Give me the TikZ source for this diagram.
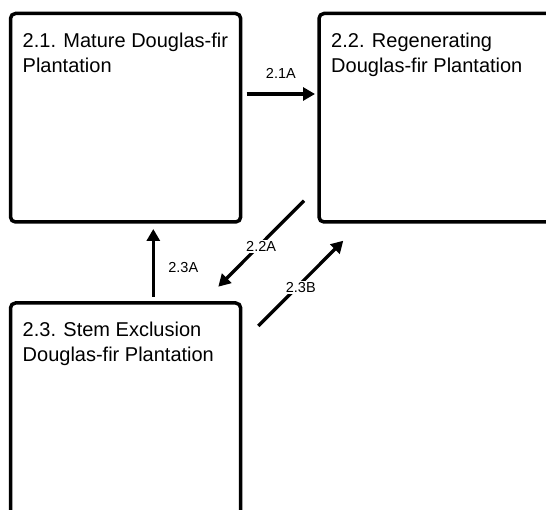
\documentclass[tikz,border=0pt]{standalone}
\usepackage{fontspec}
\setmainfont{Liberation Sans}
\usetikzlibrary{arrows.meta,calc}
\begin{document}
\begin{tikzpicture}[x=1pt,y=-1pt,
  box/.style={draw, line width=3.5pt, rounded corners=5pt, inner sep=0pt, outer sep=0pt},
  boxtext/.style={font=\fontsize{20}{25}\selectfont, align=left, anchor=north west, inner sep=0pt},
  arr/.style={line width=3.3pt, -{Triangle[length=12pt,width=13pt]}},
  alab/.style={font=\fontsize{14.5}{17}\selectfont, fill=white, inner sep=1.5pt}]
\useasboundingbox (0,0) rectangle (546,510);
\clip (0,0) rectangle (546,510);
% boxes
\node[box, minimum width=230.2pt, minimum height=208.5pt] (b1) at (125.6,117.75) {};
\node[box, minimum width=251pt, minimum height=208.5pt] (b2) at (444.5,117.75) {};
\node[box, minimum width=230.2pt, minimum height=227pt] (b3) at (125.6,416.5) {};
% texts
\node[boxtext] (t1) at ($(b1.north west)+(12,19.5)$) {2.1. Mature Douglas-fir\\Plantation};
\node[boxtext] (t2) at ($(b2.north west)+(12,19.5)$) {2.2. Regenerating\\Douglas-fir Plantation};
\node[boxtext] (t3) at ($(b3.north west)+(12,19)$) {2.3. Stem Exclusion\\Douglas-fir Plantation};
% arrows
\draw[arr] ($(b1.north east)+(6,80.5)$) -- ($(b2.north west)+(-4,80.5)$)
  node[midway, yshift=21pt, alab, fill=none] {2.1A};
\draw[arr] ($(b2.south west)+(-15,-21.3)$) -- ($(b3.north east)+(-22.4,-16.3)$)
  node[midway, yshift=-3pt, alab] {2.2A};
\draw[arr] ($(b3.north east)+(17.6,23)$) -- ($(b2.south west)+(24.3,18.7)$)
  node[midway, yshift=-4pt, alab] {2.3B};
\draw[arr] ($(b3.north)+(27.7,-6.3)$) -- ($(b1.south)+(27.7,7)$)
  node[midway, xshift=30pt, yshift=-5pt, alab, fill=none] {2.3A};
\end{tikzpicture}
\end{document}
